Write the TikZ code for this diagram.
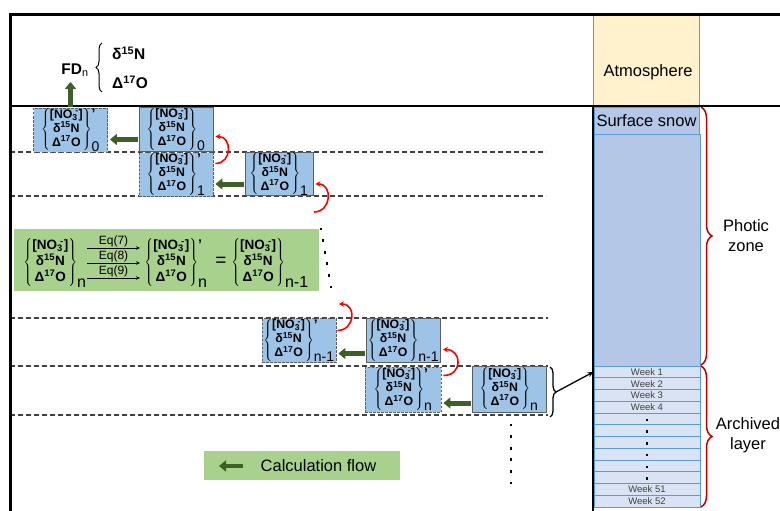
\documentclass[tikz,border=0pt]{standalone}
\usepackage{fontspec}
\setmainfont{Liberation Sans}
\usetikzlibrary{arrows.meta,decorations.pathreplacing,calc}
\definecolor{specblue}{HTML}{9DC3E6}
\definecolor{boxgray}{HTML}{5A5F66}
\definecolor{flowgreen}{HTML}{3E5F27}
\definecolor{eqgreen}{HTML}{A9D18E}
\definecolor{colblue}{HTML}{5B9BD5}
\definecolor{snowblue}{HTML}{B4C7E7}
\definecolor{weekfill}{HTML}{DAE3F3}
\definecolor{weekgray}{HTML}{404040}
\definecolor{atmyellow}{HTML}{FFF2CC}
\definecolor{bracered}{HTML}{C00000}
\definecolor{arcred}{HTML}{FF0000}
\definecolor{sepgray}{HTML}{404040}
\newcommand{\prm}{\raisebox{-0.55em}{\fontsize{14}{14}\selectfont\bfseries ’}}
\newcommand{\spc}[3][14]{%
$\left\{\mbox{\bfseries\begin{tabular}{@{}c@{}}[NO\textsubscript{3}\kern-0.2em\textsuperscript{-}]\\ δ\textsuperscript{15}N\\ Δ\textsuperscript{17}O\end{tabular}}\right\}^{\mbox{#3}}_{\mbox{\fontsize{#1}{#1}\selectfont #2}}$}
\begin{document}
\begin{tikzpicture}[x=1pt,y=-1pt,
 specbox/.style={fill=specblue, draw=boxgray, line width=0.9pt, inner sep=0pt, minimum width=74pt, minimum height=44pt, font=\fontsize{12.3}{12.3}\selectfont},
 specdash/.style={specbox, dash pattern=on 2.5pt off 1.5pt},
 eqspec/.style={inner sep=0pt, font=\fontsize{13.5}{15}\selectfont},
 flow/.style={draw=flowgreen, line width=5pt, -{Triangle[length=7pt,width=11pt]}, shorten >=2pt, shorten <=1pt},
 redarc/.style={draw=arcred, line width=1.6pt, -{Stealth[length=5pt,width=5.5pt]}},
 sep/.style={draw=sepgray, line width=1.1pt, dash pattern=on 5pt off 3pt},
 colbox/.style={draw=colblue, line width=0.8pt, inner sep=0pt},
 redbrace/.style={draw=bracered, line width=1.5pt, decorate, decoration={brace, amplitude=11pt}},
 dotmark/.style={fill=black, inner sep=0pt, minimum size=2.7pt},
 big/.style={font=\fontsize{16.5}{20}\selectfont},
 eqarr/.style={draw=black, line width=0.9pt, -{Stealth[length=4pt,width=3.5pt]}},
 eqlab/.style={above, inner sep=1pt, font=\fontsize{12}{12}\selectfont},
]
\useasboundingbox (0,0) rectangle (780,511);
\fill[white] (0,0) rectangle (780,511);

% layer separators
\draw[sep] (10,152) -- (546,152);
\draw[sep] (10,196) -- (546,196);
\draw[sep] (10,318) -- (548,318);
\draw[sep] (10,366) -- (548,366);
\draw[sep] (10,415) -- (548,415);

% column
\node[colbox, fill=atmyellow, minimum width=106pt, minimum height=91pt] (atm) at (646,60.5) {};
\node[big] (atmtxt) at (648,72) {Atmosphere};
\node[colbox, fill=snowblue, minimum width=105pt, minimum height=27pt, big] (snow) at (646.5,120.5) {Surface snow};
\node[colbox, fill=snowblue, minimum width=106pt, minimum height=232pt] (photic) at (647,250) {};
\foreach \i/\t in {1/Week 1,2/Week 2,3/Week 3,4/Week 4,5/,6/,7/,8/,9/,10/,11/Week 51,12/Week 52}
  \node[colbox, fill=weekfill, minimum width=106pt, minimum height=11.75pt, font=\fontsize{9.5}{10}\selectfont, text=weekgray] (W\i) at (647,{366+(\i-0.5)*11.75}) {\t};
\foreach \i in {5,...,10}
  \node[dotmark] at ([yshift=-1pt]W\i.center) {};

% braces on the right
\draw[redbrace] (701,107) -- (701,365);
\draw[redbrace] (701,366) -- (701,507);
\node[big, align=center] (photxt) at (746,236) {Photic\\zone};
\node[big, align=center] (archtxt) at (748,435.5) {Archived\\layer};

% frame
\draw[line width=3pt] (10,511) -- (10,15) -- (780,15);
\draw[line width=2.2pt] (9,106) -- (780,106);
\draw[line width=2.2pt] (593,106) -- (593,511);

% FD
\node[font=\fontsize{15.5}{15.5}\selectfont\bfseries] (FD) at (75,70) {FD\textsubscript{\mdseries n}};
\node[font=\fontsize{15.5}{15.5}\selectfont\bfseries, anchor=west, inner sep=0pt] (d15) at (112,53) {δ\textsuperscript{15}N};
\node[font=\fontsize{15.5}{15.5}\selectfont\bfseries, anchor=west, inner sep=0pt] (D17) at (112,82) {Δ\textsuperscript{17}O};
\draw[decorate, decoration={brace, amplitude=6pt}, line width=1pt] (102,92) -- (102,43);

% spec boxes
\node[specdash] (A0p) at (70.5,130) {\spc{0}{\prm}};
\node[specbox] (A0) at (176,129.5) {\spc{0}{}};
\node[specdash] (A1p) at (176,174.5) {\spc{1}{\prm}};
\node[specbox, minimum width=68pt, minimum height=42pt] (A1) at (279,174) {\spc{1}{}};
\node[specdash] (Cp) at (299,340.5) {\spc{n-1}{\prm}};
\node[specbox] (C) at (403.5,340.5) {\spc{n-1}{}};
\node[specdash, minimum width=76pt, minimum height=45pt] (Dp) at (403,389.5) {\spc{n}{\prm}};
\node[specbox, minimum height=46pt] (D) at (509,389) {\spc{n}{}};

% flow arrows
\draw[flow] (A0p.north) -- (A0p.north |- FD.south);
\draw[flow] ([yshift=-10pt]A0.west) -- ([yshift=-10pt]A0.west -| A0p.east);
\draw[flow] ([yshift=-10pt]A1.west) -- ([yshift=-10pt]A1.west -| A1p.east);
\draw[flow] ([yshift=-13pt]C.west) -- ([yshift=-13pt]C.west -| Cp.east);
\draw[flow] ([yshift=-14pt]D.west) -- ([yshift=-14pt]D.west -| Dp.east);

% red arcs
\coordinate (r2) at (314,212);
\coordinate (r3) at (339,304);
\draw[redarc] ([xshift=2pt,yshift=11pt]A1p.east) to[out=0,in=0,looseness=1.6] ([xshift=2pt,yshift=-7pt]A0.east);
\draw[redarc] (r2) to[out=0,in=0,looseness=1.6] ([xshift=2pt,yshift=-10pt]A1.east);
\draw[redarc] ([xshift=1pt,yshift=10pt]Cp.east) to[out=0,in=0,looseness=1.7] (r3);
\draw[redarc] ([xshift=2pt,yshift=14pt]Dp.east) to[out=0,in=0,looseness=1.9] ([xshift=2pt,yshift=-9pt]C.east);

% dots
\foreach \k in {0,...,5}
  \node[dotmark] at ({321+2*\k},{229+11.6*\k}) {};
\foreach \k in {0,...,5}
  \node[dotmark] at (511,{425+11.6*\k}) {};

% black brace to week 1
\draw[decorate, decoration={brace, amplitude=6pt}, line width=1.3pt] (550,367) -- (550,417);
\coordinate (dtip) at (556,392);
\draw[line width=1.3pt, -{Stealth[length=6pt,width=5pt]}] (dtip) -- (W1.west);

% equation box
\node[fill=eqgreen, minimum width=305pt, minimum height=62pt, inner sep=0pt] (eqbox) at (166.5,260) {};
\node[eqspec] (En) at (55,263) {\spc[16]{n}{}};
\node[eqspec] (Ep) at (176,263) {\spc[16]{n}{\prm}};
\node[font=\fontsize{19}{19}\selectfont] (eqs) at (221,262) {=};
\node[eqspec] (En1) at (270,263) {\spc[16]{n-1}{}};
\coordinate (e7a) at (87,248); \coordinate (e7b) at (140,248);
\coordinate (e8a) at (87,263); \coordinate (e8b) at (140,263);
\coordinate (e9a) at (87,278); \coordinate (e9b) at (140,278);
\draw[eqarr] (e7a) -- node[eqlab] {Eq(7)} (e7b);
\draw[eqarr] (e8a) -- node[eqlab] {Eq(8)} (e8b);
\draw[eqarr] (e9a) -- node[eqlab] {Eq(9)} (e9b);

% legend
\node[fill=eqgreen, minimum width=196pt, minimum height=29pt, inner sep=0pt] (leg) at (302,465.5) {};
\node[big] (legtxt) at (318.5,465.5) {Calculation flow};
\coordinate (la) at (244,466);
\coordinate (lb) at (217,466);
\draw[flow, line width=4pt] (la) -- (lb);
\end{tikzpicture}
\end{document}
